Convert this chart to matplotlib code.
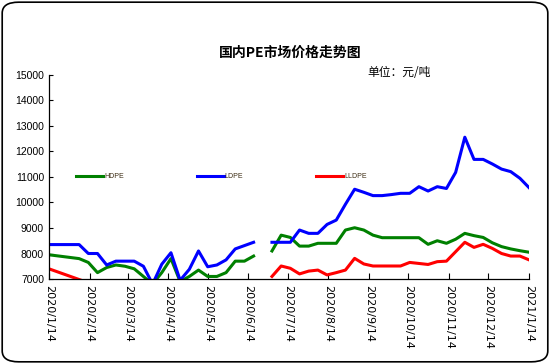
import matplotlib
matplotlib.use('Agg')
import matplotlib.pyplot as plt
from matplotlib.patches import FancyBboxPatch
import numpy as np
import pandas as pd

plt.rcParams['font.family'] = ['Liberation Sans', 'Noto Sans CJK SC', 'DejaVu Sans']

nan = np.nan

dates = [
    '2020-01-14', '2020-02-06', '2020-02-13', '2020-02-20', '2020-02-27', '2020-03-05',
    '2020-03-12', '2020-03-19', '2020-03-26', '2020-04-02', '2020-04-09', '2020-04-16',
    '2020-04-23', '2020-04-30', '2020-05-07', '2020-05-14', '2020-05-21', '2020-05-28',
    '2020-06-04', '2020-06-11', '2020-06-18', '2020-06-25',
    '2020-07-02', '2020-07-09', '2020-07-16', '2020-07-23', '2020-07-30', '2020-08-06',
    '2020-08-13', '2020-08-20', '2020-08-27', '2020-09-03', '2020-09-10', '2020-09-17',
    '2020-09-24', '2020-10-01', '2020-10-08', '2020-10-15', '2020-10-22', '2020-10-29',
    '2020-11-05', '2020-11-12', '2020-11-19', '2020-11-26', '2020-12-03', '2020-12-10',
    '2020-12-17', '2020-12-24', '2020-12-31', '2021-01-07', '2021-01-14',
]

hdpe = [
    7950, 7800, 7650, 7250, 7450, 7550, 7500, 7400, 7100, 6800, 7250, 7800,
    6900, 7100, 7350, 7100, 7100, 7250, 7700, 7700, 7900, nan,
    8100, 8720, 8630, 8290, 8290, 8400, 8400, 8400, 8920, 9010, 8920, 8720,
    8620, 8620, 8620, 8620, 8620, 8360, 8500, 8400, 8560, 8790, 8700, 8630,
    8420, 8270, 8180, 8110, 8050,
]

ldpe = [
    8350, 8350, 8000, 8000, 7550, 7700, 7700, 7700, 7500, 6800, 7580, 8030,
    6950, 7380, 8100, 7480, 7550, 7750, 8180, 8310, 8440, nan,
    8440, 8440, 8440, 8920, 8790, 8790, 9140, 9310, 9930, 10520, 10400, 10270,
    10270, 10310, 10360, 10360, 10620, 10450, 10620, 10550, 11180, 12560, 11690, 11690,
    11510, 11310, 11210, 10950, 10580,
]

lldpe = [
    7400, 6980, 6850, 6700, 6600, 6600, 6550, 6500, 6450, 6300, 6400, 6500,
    6400, 6450, 6600, 6550, 6550, 6600, 6750, 6800, 6850, nan,
    7100, 7510, 7420, 7200, 7310, 7350, 7160, 7250, 7350, 7810, 7590, 7510,
    7510, 7510, 7510, 7650, 7610, 7570, 7680, 7700, 8070, 8440, 8240, 8360,
    8200, 8000, 7900, 7900, 7750,
]

tick_dates = [
    '2020-01-14', '2020-02-14', '2020-03-14', '2020-04-14', '2020-05-14', '2020-06-14',
    '2020-07-14', '2020-08-14', '2020-09-14', '2020-10-14', '2020-11-14', '2020-12-14',
    '2021-01-14',
]
tick_labels = [
    '2020/1/14', '2020/2/14', '2020/3/14', '2020/4/14', '2020/5/14', '2020/6/14',
    '2020/7/14', '2020/8/14', '2020/9/14', '2020/10/14', '2020/11/14', '2020/12/14',
    '2021/1/14',
]

x = pd.to_datetime(dates)

fig = plt.figure(figsize=(5.5, 3.64), dpi=100)
ax = fig.add_axes([0.089, 0.2335, 0.873, 0.5605])

ax.plot(x, hdpe, color='#008000', lw=2.2, label='HDPE')
ax.plot(x, ldpe, color='#0000FF', lw=2.2, label='LDPE')
ax.plot(x, lldpe, color='#FF0000', lw=2.2, label='LLDPE')

ax.set_ylim(7000, 15000)
ax.set_yticks(np.arange(7000, 15001, 1000))
ax.set_xlim(pd.Timestamp('2020-01-14'), pd.Timestamp('2021-01-14'))
ax.set_xticks(pd.to_datetime(tick_dates))
ax.set_xticklabels(tick_labels, rotation=-90, fontsize=8, family='DejaVu Sans')
ax.tick_params(axis='y', labelsize=7.5, direction='in', length=3, width=0.8)
ax.tick_params(axis='x', direction='in', length=4, width=0.8, pad=4)

for s in ['top', 'right']:
    ax.spines[s].set_visible(False)
for s in ['left', 'bottom']:
    ax.spines[s].set_linewidth(0.9)

leg = ax.legend(ncol=3, loc='center left', bbox_to_anchor=(0.049, 0.5), frameon=False,
                fontsize=5, handlelength=3.9, handletextpad=0.15, columnspacing=10.5,
                borderpad=0)
for t in leg.get_texts():
    t.set_color('#3a2a10')

fig.text(0.527, 0.856, '国内PE市场价格走势图', ha='center', va='center', fontsize=10,
         fontweight='bold', family=['Noto Sans CJK SC', 'DejaVu Sans'])
fig.text(0.668, 0.8, '单位：元/吨', ha='left', va='center', fontsize=8.5,
         family=['Noto Sans CJK SC', 'DejaVu Sans'])

border = FancyBboxPatch((0.004, 0.006), 0.992, 0.988, transform=fig.transFigure,
                        boxstyle='round,pad=0,rounding_size=0.03', fill=False,
                        edgecolor='black', lw=1.2)
fig.patches.append(border)

fig.savefig('out.png', dpi=100)
